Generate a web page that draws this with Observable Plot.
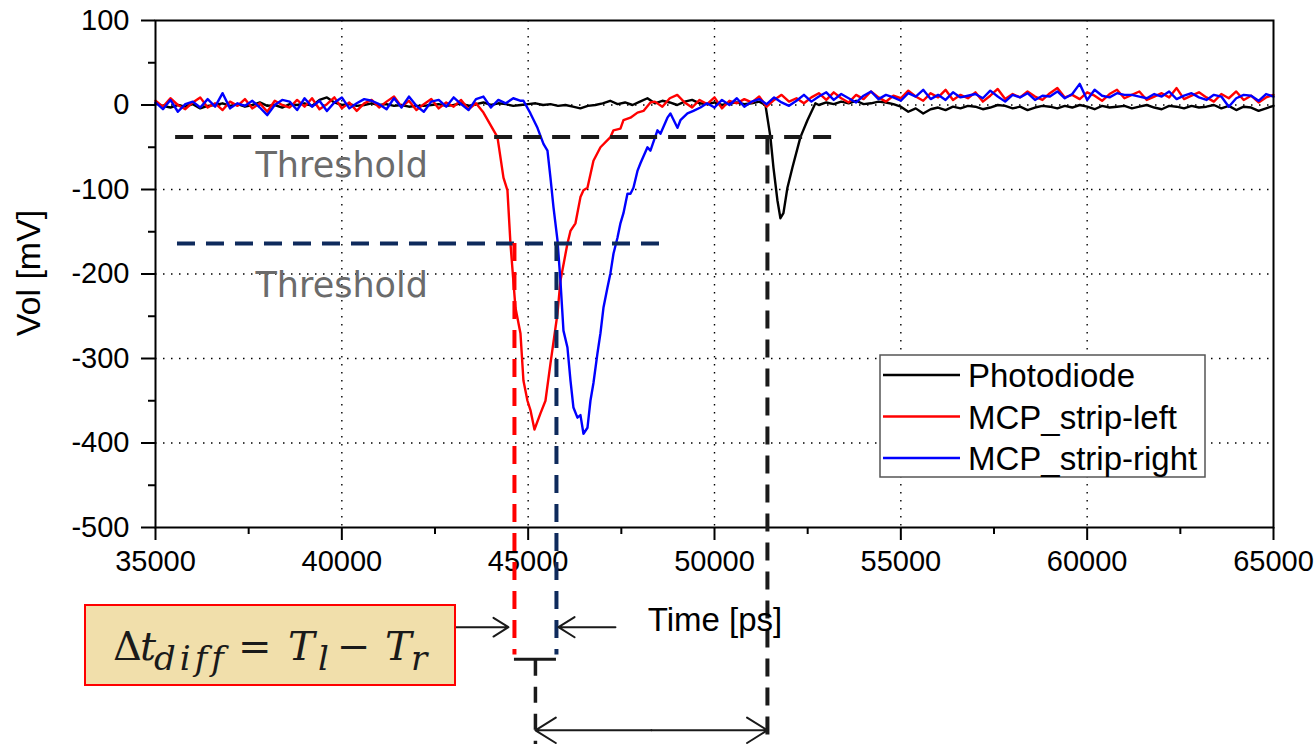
<!DOCTYPE html>
<html><head><meta charset="utf-8">
<script src="https://cdn.jsdelivr.net/npm/d3@7"></script>
<script src="https://cdn.jsdelivr.net/npm/@observablehq/plot@0.6"></script>
<style>body{margin:0;background:#fff;} #chart{width:1316px;height:744px;}</style>
</head><body><div id="chart"></div>
<script>
// ---- axes ----
const xTicks = [35000,40000,45000,50000,55000,60000,65000];
const xMinorTicks = [37500,42500,47500,52500,57500,62500];
const yTicks = [100,0,-100,-200,-300,-400,-500];
const yMinorTicks = [50,-50,-150,-250,-350,-450];
const xGrid = [40000,45000,50000,55000,60000];
const yGrid = [0,-100,-200,-300,-400];

// ---- series (baseline samples every 200 ps from 35000 ps; null inside pulse) ----
const sampleStart = 35000, sampleStep = 200;
const seriesNames = ["Photodiode","MCP_strip-left","MCP_strip-right"];
const seriesColors = ["#000000","#ff0000","#0000ff"];

const photodiodeBase = [
 2,-1,-3,0,-2,1,-4,-1,0,2,
 -1,1,-2,0,3,-1,0,-3,1,0,
 2,-1,6,9,3,0,1,-1,0,2,
 0,1,-1,0,-2,-1,-1,0,1,-1,
 0,2,-1,1,3,0,2,1,-1,0,
 1,2,0,1,-1,0,-2,-4,-1,0,
 2,5,1,3,0,4,8,2,5,3,
 0,4,6,2,1,3,0,2,3,1,
 2,4,null,null,null,null,null,null,null,0,
 3,1,4,2,5,1,2,4,3,1,
 -2,-8,-4,-10,-5,-3,-6,-2,-4,-1,
 -2,-5,-3,0,-1,-4,-2,-6,-3,-1,
 -2,-4,-1,-3,0,-2,-5,-1,-3,-2,
 -1,-4,-2,0,-3,-5,-1,-2,-4,-1,
 -3,-2,0,-4,-1,-6,-2,-3,-7,-4,-1];
const photodiodePulseT = [51367,51501,51582,51689,51769,51850,51957,52091,52306,52494,52708];
const photodiodePulseV = [0,-38,-74,-113,-134,-128,-98,-74,-38,-18,2];

const leftBase = [
 5,-2,8,0,-5,3,9,-3,2,-6,
 4,-1,7,-4,2,-8,5,0,-3,6,
 -2,8,-5,1,9,-4,3,-7,2,6,
 -3,4,10,-2,5,-6,1,7,-4,3,
 -2,6,-5,2,null,null,null,null,null,null,
 null,null,null,null,null,null,null,null,null,null,
 null,null,null,null,null,null,null,4,-2,8,
 12,3,-3,6,1,9,-4,5,2,7,
 3,10,-2,6,12,4,8,2,9,14,
 6,15,8,3,12,7,16,9,4,11,
 8,17,10,5,14,9,18,6,12,8,
 15,4,11,19,7,13,9,16,10,6,
 14,20,9,12,7,15,11,5,13,18,
 8,12,16,6,10,14,9,20,7,11,
 15,9,4,13,8,16,6,11,3,9,12];
const leftPulseT = [43800,44176,44337,44444,44525,44659,44793,44873,44981,45061,45169,45330,45464,45598,45786,45866,46054,46135,46269,46403,46484,46591,46752,46940,47208,47289,47476,47557,47745,47933,48094,48281];
const leftPulseV = [-9,-38,-86,-101,-164,-240,-270,-326,-350,-361,-384,-365,-350,-306,-247,-208,-164,-149,-140,-109,-101,-98,-66,-50,-38,-30,-28,-18,-15,-9,-7,3];

const rightBase = [
 3,-5,6,-8,1,4,-3,7,-2,14,
 -4,2,-1,5,-3,-12,0,6,4,-6,
 8,-2,5,-7,3,9,-4,2,7,5,
 1,-5,8,-3,10,-1,-8,4,6,-2,
 9,1,-6,7,10,-3,6,2,8,5,
 null,null,null,null,null,null,null,null,null,null,
 null,null,null,null,null,null,null,null,null,null,
 null,null,null,null,2,-3,6,0,8,-2,
 4,7,1,9,3,-1,5,12,4,10,
 15,6,13,8,3,11,16,7,12,9,
 5,14,10,18,7,12,6,15,9,11,
 13,8,17,10,4,12,9,14,6,11,
 10,16,8,13,25,6,18,11,9,14,
 12,12,10,8,13,10,16,7,11,14,
 9,6,12,10,-2,8,12,11,5,13,10];
const rightPulseT = [44874,45061,45249,45410,45518,45598,45679,45786,45866,45947,46054,46135,46215,46322,46403,46484,46591,46671,46752,46859,46940,47020,47128,47208,47289,47396,47476,47557,47664,47745,47825,47933,48013,48201,48281,48469,48550,48737,48818,49006,49086,49274,49435,49623];
const rightPulseV = [5,-10,-27,-46,-54,-86,-121,-160,-208,-267,-287,-326,-358,-370,-367,-389,-382,-350,-329,-294,-270,-240,-216,-199,-176,-157,-140,-128,-105,-105,-98,-78,-69,-50,-54,-30,-34,-15,-10,-27,-18,-10,-7,-3];

// ---- annotations (data units) ----
const thresholdLevels = [-38, -164];
const thresholdFrom = [35540, 35590];
const thresholdTo = [53250, 48680];
const thresholdColors = ["#1a1a1a", "#0e2a5c"];
const thresholdLabelT = 37683;
const thresholdLabelV = [-72, -214];

const crossTimes = [44632, 45759, 51420];
const crossTop = [-164, -164, -38];
const crossBottom = [-651, -651, -746];
const crossColors = ["#ff0000", "#0e2a5c", "#1a1a1a"];

const barFrom = 44632, barTo = 45759, barLevel = -656;
const stemT = 45195, stemTop = -657, stemBottom = -757;
const arrowFrom = [43049, 47342, 48307, 48307];
const arrowTo   = [44471, 45813, 45195, 51420];
const arrowLevel = [-618, -618, -740, -740];

function buildSeries(base, pt, pv) {
  const pts = [];
  base.forEach((v, i) => { if (v !== null) pts.push({t: sampleStart + i * sampleStep, v}); });
  pt.forEach((t, i) => pts.push({t, v: pv[i]}));
  return pts.sort((a, b) => a.t - b.t);
}
const photodiode = buildSeries(photodiodeBase, photodiodePulseT, photodiodePulseV);
const left = buildSeries(leftBase, leftPulseT, leftPulseV);
const right = buildSeries(rightBase, rightPulseT, rightPulseV);

const thresholds = thresholdLevels.map((v, i) => ({v, a: thresholdFrom[i], b: thresholdTo[i], c: thresholdColors[i]}));
const crosses = crossTimes.map((t, i) => ({t, a: crossTop[i], b: crossBottom[i], c: crossColors[i]}));
const arrows = arrowFrom.map((a, i) => ({a, b: arrowTo[i], y: arrowLevel[i]}));
const fmt = d => String(d);

const plot = Plot.plot({
  width: 1316, height: 744,
  marginLeft: 155, marginRight: 43, marginTop: 20, marginBottom: 217,
  style: {fontFamily: "Liberation Sans, Arial, sans-serif", background: "#fff", color: "#000"},
  x: {domain: [35000, 65000]},
  y: {domain: [-500, 100]},
  marks: [
    Plot.gridX(xGrid, {stroke: "#000", strokeOpacity: 1, strokeWidth: 1.4, strokeDasharray: "1.5,6.5"}),
    Plot.gridY(yGrid, {stroke: "#000", strokeOpacity: 1, strokeWidth: 1.4, strokeDasharray: "1.5,6.5"}),
    Plot.line(photodiode, {x: "t", y: "v", stroke: seriesColors[0], strokeWidth: 2.4}),
    Plot.line(left, {x: "t", y: "v", stroke: seriesColors[1], strokeWidth: 2.4}),
    Plot.line(right, {x: "t", y: "v", stroke: seriesColors[2], strokeWidth: 2.4}),
    Plot.frame({stroke: "#000", strokeWidth: 2}),
    Plot.axisX(xTicks, {tickSize: 13, tickPadding: 10, fontSize: 29, tickFormat: fmt, strokeWidth: 2, label: null}),
    Plot.axisX(xMinorTicks, {tickSize: 7, tickFormat: () => "", strokeWidth: 2, label: null}),
    Plot.axisY(yTicks, {tickSize: 14, tickPadding: 12, fontSize: 29, tickFormat: fmt, strokeWidth: 2, label: null}),
    Plot.axisY(yMinorTicks, {tickSize: 7, tickFormat: () => "", strokeWidth: 2, label: null}),
    Plot.ruleY(thresholds, {y: "v", x1: "a", x2: "b", stroke: "c", strokeWidth: 4, strokeDasharray: "18,11"}),
    Plot.text(thresholdLabelV, {x: thresholdLabelT, y: d => d, text: () => "Threshold", textAnchor: "start",
      fontSize: 35, fontFamily: "DejaVu Sans", fill: "#6b6b6b"}),
    Plot.ruleX(crosses, {x: "t", y1: "a", y2: "b", stroke: "c", strokeWidth: 4, strokeDasharray: "18,11"}),
    Plot.ruleY([barLevel], {x1: barFrom, x2: barTo, stroke: "#1a1a1a", strokeWidth: 3}),
    Plot.ruleX([stemT], {y1: stemTop, y2: stemBottom, stroke: "#1a1a1a", strokeWidth: 3.5, strokeDasharray: "16,11"}),
    Plot.arrow(arrows, {x1: "a", x2: "b", y1: "y", y2: "y", stroke: "#1a1a1a", strokeWidth: 2, headLength: 18, headAngle: 64})
  ]
});
document.getElementById("chart").appendChild(plot);

const svg = d3.select(plot);
// axis titles
svg.append("text").attr("transform", "translate(40,273) rotate(-90)").attr("text-anchor", "middle")
  .attr("font-family", "Liberation Sans, Arial, sans-serif").attr("font-size", 34).attr("fill", "#000").text("Vol [mV]");
svg.append("text").attr("x", 715).attr("y", 631).attr("text-anchor", "middle")
  .attr("font-family", "Liberation Sans, Arial, sans-serif").attr("font-size", 33).attr("fill", "#000").text("Time [ps]");

// legend
const lg = svg.append("g").attr("font-family", "Liberation Sans, Arial, sans-serif").attr("text-anchor", "start");
lg.append("rect").attr("x", 880).attr("y", 355).attr("width", 325).attr("height", 122)
  .attr("fill", "#fff").attr("stroke", "#555").attr("stroke-width", 1.5);
seriesNames.forEach((name, i) => {
  const y = 375 + i * 41.5;
  lg.append("line").attr("x1", 883).attr("x2", 960).attr("y1", y).attr("y2", y)
    .attr("stroke", seriesColors[i]).attr("stroke-width", 2.5);
  lg.append("text").attr("x", 968).attr("y", y + 12).attr("text-anchor", "start")
    .attr("font-size", 33).attr("fill", "#000").text(name);
});

// formula box
const fb = svg.append("g").attr("font-family", "DejaVu Serif, serif").attr("fill", "#1a1a1a").attr("text-anchor", "start");
fb.append("rect").attr("x", 85).attr("y", 605).attr("width", 370).attr("height", 80)
  .attr("fill", "#f1dfab").attr("stroke", "#ff0000").attr("stroke-width", 2);
const pieces = [
  {s: "\u0394", x: 113, y: 660, f: 40, it: false, ls: 0},
  {s: "t", x: 140, y: 660, f: 40, it: true, ls: 0},
  {s: "diff", x: 154, y: 670, f: 34, it: true, ls: 4},
  {s: "=", x: 238, y: 660, f: 40, it: false, ls: 0},
  {s: "T", x: 288, y: 660, f: 40, it: true, ls: 0},
  {s: "l", x: 318, y: 670, f: 34, it: true, ls: 0},
  {s: "\u2212", x: 337, y: 660, f: 40, it: false, ls: 0},
  {s: "T", x: 385, y: 660, f: 40, it: true, ls: 0},
  {s: "r", x: 411, y: 670, f: 34, it: true, ls: 0}
];
pieces.forEach(p => fb.append("text").attr("x", p.x).attr("y", p.y).attr("font-size", p.f)
  .attr("text-anchor", "start").attr("font-style", p.it ? "italic" : "normal")
  .attr("letter-spacing", p.ls).text(p.s));
</script>
</body></html>
